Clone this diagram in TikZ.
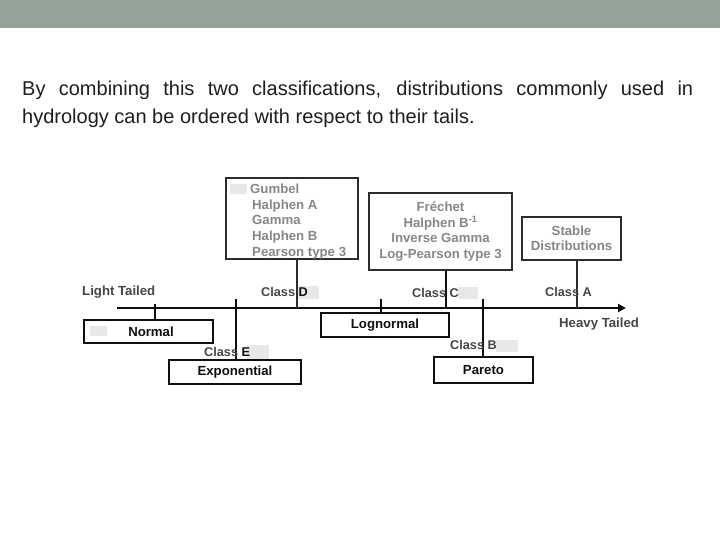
\documentclass[tikz,border=0pt]{standalone}
\usepackage{fontspec}
\setmainfont{Liberation Sans}
\usetikzlibrary{arrows.meta}
\definecolor{band}{RGB}{148,162,152}
\definecolor{txt}{RGB}{30,30,30}
\definecolor{lbl}{RGB}{70,70,70}
\definecolor{uptxt}{RGB}{135,135,135}
\definecolor{upbox}{RGB}{45,45,45}
\definecolor{lowbox}{RGB}{15,15,15}
\definecolor{chip}{RGB}{232,232,232}
\begin{document}
\begin{tikzpicture}[x=1pt,y=-1pt,
  lowbox/.style={draw=lowbox,line width=2.6pt,inner sep=0pt,text=lowbox,
     font=\fontsize{13.2}{15}\selectfont\bfseries},
  upbox/.style={draw=upbox,line width=2.2pt,inner sep=0pt,text=uptxt,align=center,
     font=\fontsize{13.2}{15.5}\selectfont\bfseries},
  uptext/.style={anchor=base west,inner sep=0pt,text=uptxt,font=\fontsize{13.2}{15}\selectfont\bfseries},
  classlbl/.style={anchor=base west,inner sep=0pt,text=lbl,font=\fontsize{12.7}{15}\selectfont\bfseries},
  taillbl/.style={anchor=base west,inner sep=0pt,text=lbl,font=\fontsize{13.2}{15}\selectfont\bfseries},
  conn/.style={draw=lowbox,line width=2.2pt},
  body/.style={anchor=base west,inner sep=0pt,text=txt,font=\fontsize{20}{24}\selectfont}]
\useasboundingbox (0,0) rectangle (720,540);
\fill[white] (0,0) rectangle (720,540);
\fill[band] (0,0) rectangle (720,28);
% body text
\node[body] (line1) at (22,96) {\makebox[671pt][s]{By combining this two classifications, distributions commonly used in}};
\node[body] (line2) at (22,124) {hydrology can be ordered with respect to their tails.};
% chips
\fill[chip] (230,184) rectangle (247,194);
\fill[chip] (90,326) rectangle (107,336);
\fill[chip] (298,286) rectangle (319,299);
\fill[chip] (458,287) rectangle (478,299);
\fill[chip] (496,340) rectangle (518,352);
\fill[chip] (247,345) rectangle (269,359);
% axis
\coordinate (axL) at (117,308);
\coordinate (axR) at (626,308);
\draw[line width=2.4pt,draw=lowbox,-{Triangle[length=8pt,width=8pt]}] (axL) -- (axR);
% upper boxes
\node[upbox,minimum width=132pt,minimum height=81pt] (gumbel) at (292,218.5) {};
\node[uptext] (g1) at (250,194) {Gumbel};
\node[uptext] (g2) at (252,209.5) {Halphen A};
\node[uptext] (g3) at (252,225) {Gamma};
\node[uptext] (g4) at (252,240.5) {Halphen B};
\node[uptext] (g5) at (252,256) {Pearson type 3};
\node[upbox,minimum width=143pt,minimum height=77pt] (frechet) at (440.5,231.5)
  {Fréchet\\Halphen B\textsuperscript{-1}\\Inverse Gamma\\Log-Pearson type 3};
\node[upbox,minimum width=99pt,minimum height=43pt] (stable) at (571.5,238.5)
  {Stable\\Distributions};
% lower boxes
\node[lowbox,minimum width=129pt,minimum height=23pt] (normal) at (148.5,331.5) {\hspace{5pt}Normal};
\node[lowbox,minimum width=132pt,minimum height=24pt] (expo) at (235,372) {Exponential};
\node[lowbox,minimum width=128pt,minimum height=24pt] (logn) at (385,325) {Lognormal};
\node[lowbox,minimum width=99pt,minimum height=26pt] (pareto) at (483.5,370) {Pareto};
% tick coordinates
\coordinate (tN) at (155,304);
\coordinate (tE) at (236,299);
\coordinate (tL) at (381,299);
\coordinate (tD) at (297,308);
\coordinate (tC) at (446,308);
\coordinate (tB) at (483,299);
\coordinate (tA) at (577,308);
% connectors
\draw[conn] (tN) -- (normal.north -| tN);
\draw[conn,line width=2.8pt] (tE) -- (expo.north -| tE);
\draw[conn] (tL) -- (logn.north -| tL);
\draw[conn,line width=1.8pt,draw=upbox] (gumbel.south -| tD) -- (tD);
\draw[conn,line width=2.6pt] (frechet.south -| tC) -- (tC);
\draw[conn,line width=2.6pt] (tB) -- (pareto.north -| tB);
\draw[conn,line width=2.2pt,draw=upbox] (stable.south -| tA) -- (tA);
% labels
\node[taillbl] (light) at (82,295) {Light Tailed};
\node[taillbl] (heavy) at (559,327) {Heavy Tailed};
\node[classlbl] (cD) at (261,296) {Class \textcolor{lowbox}{D}};
\node[classlbl] (cC) at (412,297) {Class C};
\node[classlbl] (cB) at (450,349) {Class B};
\node[classlbl] (cA) at (545,296) {Class A};
\node[classlbl] (cE) at (204,356) {Class \textcolor{lowbox}{E}};
\end{tikzpicture}
\end{document}
